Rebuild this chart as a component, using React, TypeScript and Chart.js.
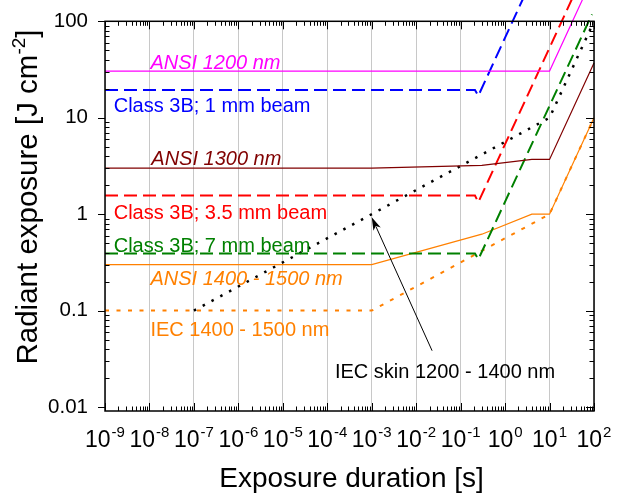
import React, { useEffect, useRef } from "react";
import { Chart, registerables } from "chart.js";

Chart.register(...registerables);

const FONT = "'Liberation Sans', Arial, Helvetica, sans-serif";

// ---- tick labels ----
const xTickValues = [1e-9, 1e-8, 1e-7, 1e-6, 1e-5, 1e-4, 1e-3, 1e-2, 1e-1, 1, 10, 100];
const xTickExponents = ["-9", "-8", "-7", "-6", "-5", "-4", "-3", "-2", "-1", "0", "1", "2"];
const yTickValues = [0.01, 0.1, 1, 10, 100];
const yTickLabels = ["0.01", "0.1", "1", "10", "100"];

// ---- series (time [s], radiant exposure [J/cm2]) ----
const ansi1200Time = [1e-9, 10, 60];
const ansi1200Exposure = [30.5, 30.5, 183];
const class3b1mmTime = [1e-9, 0.21, 0.25, 3];
const class3b1mmExposure = [19.4, 19.4, 16.9, 203];
const ansi1300Time = [1e-9, 1e-3, 0.3, 4, 10, 100];
const ansi1300Exposure = [3.0, 3.0, 3.2, 3.7, 3.7, 37];
const class3b35mmTime = [1e-9, 0.21, 0.25, 40];
const class3b35mmExposure = [1.56, 1.56, 1.33, 213];
const class3b7mmTime = [1e-9, 0.21, 0.25, 90];
const class3b7mmExposure = [0.39, 0.39, 0.34, 118];
const ansi1400Time = [1e-9, 1e-3, 0.3, 4, 10, 100];
const ansi1400Exposure = [0.3, 0.3, 0.62, 1.0, 1.0, 10];
const iec1400Time = [1e-9, 1e-3, 10, 100];
const iec1400Exposure = [0.1, 0.1, 1.0, 10];
const iecSkinTime = [1e-7, 10, 100];
const iecSkinExposure = [0.1, 10, 100];

// ---- annotation texts (anchored in data coordinates: left / baseline) ----
const annotationTexts = [
  "ANSI 1200 nm",
  "Class 3B; 1 mm beam",
  "ANSI 1300 nm",
  "Class 3B; 3.5 mm beam",
  "Class 3B; 7 mm beam",
  "ANSI 1400 - 1500 nm",
  "IEC 1400 - 1500 nm",
  "IEC skin 1200 - 1400 nm",
];
const annotationTime = [1.05e-8, 1.57e-9, 1.1e-8, 1.57e-9, 1.57e-9, 1.05e-8, 1.05e-8, 1.49e-4];
const annotationExposure = [32, 11.4, 3.26, 0.9, 0.41, 0.183, 0.0547, 0.0199];
const annotationColors = ["#ff00ff", "#0000ff", "#800000", "#ff0000", "#008000", "#ff8000", "#ff8000", "#000000"];
const annotationItalic = [true, false, true, false, false, true, false, false];

// arrow: tail -> tip (data coords)
const arrowTime = [0.0228, 1.0e-3];
const arrowExposure = [0.0384, 0.93];

const toXY = (t: number[], h: number[]) => t.map((v, i) => ({ x: v, y: h[i] }));

const decoPlugin = {
  id: "deco",
  afterDatasetsDraw(chart: any) {
    const { ctx, chartArea: a, scales } = chart;
    const xs = scales.x;
    const ys = scales.y;
    ctx.save();
    // frame
    ctx.strokeStyle = "#000";
    ctx.lineWidth = 1.5;
    ctx.strokeRect(a.left, a.top, a.right - a.left, a.bottom - a.top);
    // ticks
    ctx.lineWidth = 1;
    ctx.beginPath();
    for (let d = -9; d <= 2; d++) {
      for (let m = 1; m < 10; m++) {
        if (d === 2 && m > 1) break;
        const px = Math.round(xs.getPixelForValue(m * Math.pow(10, d))) + 0.5;
        const len = m === 1 ? 8 : 4.5;
        ctx.moveTo(px, a.bottom);
        ctx.lineTo(px, a.bottom - len);
        ctx.moveTo(px, a.top);
        ctx.lineTo(px, a.top + len);
      }
    }
    for (let d = -2; d <= 2; d++) {
      for (let m = 1; m < 10; m++) {
        if (d === 2 && m > 1) break;
        const py = Math.round(ys.getPixelForValue(m * Math.pow(10, d))) + 0.5;
        if (m === 1) {
          ctx.moveTo(a.left, py);
          ctx.lineTo(a.left - 7, py);
          ctx.moveTo(a.right, py);
          ctx.lineTo(a.right - 8, py);
        } else {
          ctx.moveTo(a.left, py);
          ctx.lineTo(a.left + 4.5, py);
          ctx.moveTo(a.right, py);
          ctx.lineTo(a.right - 4.5, py);
        }
      }
    }
    ctx.stroke();

    // arrow
    const x0 = xs.getPixelForValue(arrowTime[0]);
    const y0 = ys.getPixelForValue(arrowExposure[0]);
    const x1 = xs.getPixelForValue(arrowTime[1]);
    const y1 = ys.getPixelForValue(arrowExposure[1]);
    const ang = Math.atan2(y1 - y0, x1 - x0);
    const hl = 13;
    const hw = 4;
    ctx.beginPath();
    ctx.moveTo(x0, y0);
    ctx.lineTo(x1 - Math.cos(ang) * hl * 0.8, y1 - Math.sin(ang) * hl * 0.8);
    ctx.stroke();
    ctx.fillStyle = "#000";
    ctx.beginPath();
    ctx.moveTo(x1, y1);
    ctx.lineTo(x1 - Math.cos(ang) * hl + Math.sin(ang) * hw, y1 - Math.sin(ang) * hl - Math.cos(ang) * hw);
    ctx.lineTo(x1 - Math.cos(ang) * hl * 0.75, y1 - Math.sin(ang) * hl * 0.75);
    ctx.lineTo(x1 - Math.cos(ang) * hl - Math.sin(ang) * hw, y1 - Math.sin(ang) * hl + Math.cos(ang) * hw);
    ctx.closePath();
    ctx.fill();

    // annotations
    ctx.textBaseline = "alphabetic";
    ctx.textAlign = "left";
    annotationTexts.forEach((txt, i) => {
      ctx.font = `${annotationItalic[i] ? "italic " : ""}20px ${FONT}`;
      ctx.fillStyle = annotationColors[i];
      ctx.fillText(txt, xs.getPixelForValue(annotationTime[i]), ys.getPixelForValue(annotationExposure[i]));
    });

    // x tick labels with superscripts
    ctx.fillStyle = "#000";
    xTickValues.forEach((v, i) => {
      const px = xs.getPixelForValue(v);
      ctx.font = `23px ${FONT}`;
      const w1 = ctx.measureText("10").width;
      ctx.font = `15px ${FONT}`;
      const w2 = ctx.measureText(xTickExponents[i]).width;
      const start = px - (w1 + w2 + 1) / 2;
      ctx.font = `23px ${FONT}`;
      ctx.fillText("10", start, 447);
      ctx.font = `15px ${FONT}`;
      ctx.fillText(xTickExponents[i], start + w1 + 1, 437);
    });

    // x title
    ctx.font = `28px ${FONT}`;
    ctx.textAlign = "center";
    ctx.fillText("Exposure duration [s]", (a.left + a.right) / 2 + 2, 487);

    // y title with superscript
    ctx.save();
    ctx.translate(37, 197);
    ctx.rotate(-Math.PI / 2);
    ctx.textAlign = "left";
    const main = "Radiant exposure [J cm";
    const sup = "-2";
    const tail = "]";
    ctx.font = `29.5px ${FONT}`;
    const wm = ctx.measureText(main).width;
    const wt = ctx.measureText(tail).width;
    ctx.font = `19px ${FONT}`;
    const ws = ctx.measureText(sup).width;
    const start = -(wm + ws + wt) / 2;
    ctx.font = `29.5px ${FONT}`;
    ctx.fillText(main, start, 0);
    ctx.font = `19px ${FONT}`;
    ctx.fillText(sup, start + wm, -12);
    ctx.font = `29.5px ${FONT}`;
    ctx.fillText(tail, start + wm + ws, 0);
    ctx.restore();

    ctx.restore();
  },
};

export default function App() {
  const canvasRef = useRef<HTMLCanvasElement | null>(null);

  useEffect(() => {
    if (!canvasRef.current) return;
    const dashed = [13, 6];
    const common = { pointRadius: 0, tension: 0, fill: false, clip: false as any, borderCapStyle: "butt" as const };
    const chart = new Chart(canvasRef.current, {
      type: "line",
      data: {
        datasets: [
          { label: "ANSI 1200 nm", data: toXY(ansi1200Time, ansi1200Exposure), borderColor: "#ff00ff", borderWidth: 1.2, ...common },
          { label: "Class 3B; 1 mm beam", data: toXY(class3b1mmTime, class3b1mmExposure), borderColor: "#0000ff", borderWidth: 2, borderDash: dashed, ...common },
          { label: "ANSI 1300 nm", data: toXY(ansi1300Time, ansi1300Exposure), borderColor: "#800000", borderWidth: 1.2, ...common },
          { label: "Class 3B; 3.5 mm beam", data: toXY(class3b35mmTime, class3b35mmExposure), borderColor: "#ff0000", borderWidth: 2, borderDash: dashed, ...common },
          { label: "Class 3B; 7 mm beam", data: toXY(class3b7mmTime, class3b7mmExposure), borderColor: "#008000", borderWidth: 2, borderDash: dashed, ...common },
          { label: "ANSI 1400 - 1500 nm", data: toXY(ansi1400Time, ansi1400Exposure), borderColor: "#ff8000", borderWidth: 1.2, ...common },
          { label: "IEC 1400 - 1500 nm", data: toXY(iec1400Time, iec1400Exposure), borderColor: "#ff8000", borderWidth: 2, borderDash: [4, 7.5], ...common },
          { label: "IEC skin 1200 - 1400 nm", data: toXY(iecSkinTime, iecSkinExposure), borderColor: "#000000", borderWidth: 2.5, borderDash: [2.5, 7.5], ...common },
        ],
      },
      options: {
        animation: false,
        responsive: false,
        devicePixelRatio: 1,
        layout: { padding: { left: 0, top: 16, right: 27, bottom: 0 } },
        plugins: { legend: { display: false }, tooltip: { enabled: false } },
        scales: {
          x: {
            type: "logarithmic",
            min: 1e-9,
            max: 100,
            afterBuildTicks: (s: any) => {
              s.ticks = xTickValues.map((v) => ({ value: v }));
            },
            afterFit: (s: any) => {
              s.height = 83;
            },
            ticks: { display: false },
            grid: { color: "#c8c8c8", lineWidth: 1, drawTicks: false },
            border: { display: false },
          },
          y: {
            type: "logarithmic",
            min: 0.0091,
            max: 100,
            afterBuildTicks: (s: any) => {
              s.ticks = yTickValues.map((v) => ({ value: v }));
            },
            afterFit: (s: any) => {
              s.width = 105;
            },
            ticks: {
              color: "#000",
              font: { family: FONT, size: 20.5 },
              padding: 9,
              callback: (_v: any, i: number) => yTickLabels[i],
            },
            grid: { display: false },
            border: { display: false },
          },
        },
      },
      plugins: [decoPlugin],
    });
    return () => chart.destroy();
  }, []);

  return (
    <div style={{ position: "absolute", left: 0, top: 0, width: 621, height: 494, background: "#fff" }}>
      <canvas ref={canvasRef} width={621} height={494} />
    </div>
  );
}
